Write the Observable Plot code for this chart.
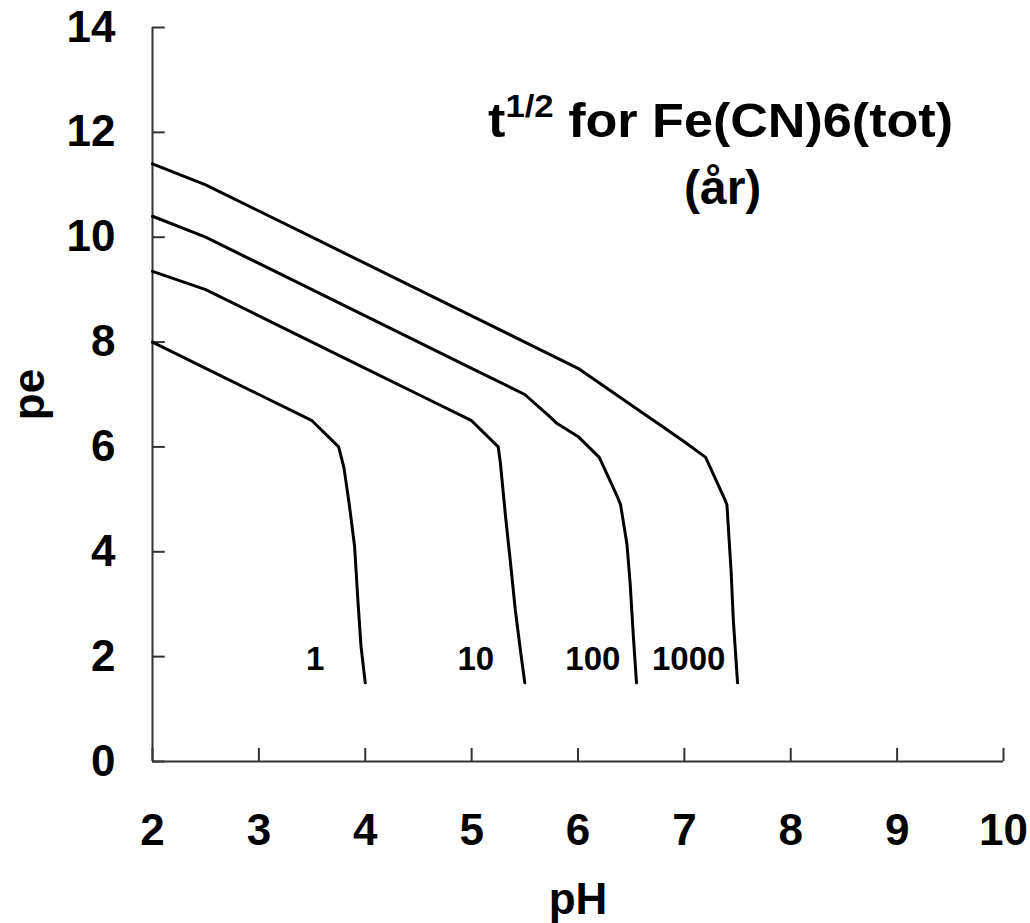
<!DOCTYPE html>
<html>
<head>
<meta charset="utf-8">
<script src="https://cdn.jsdelivr.net/npm/d3@7"></script>
<script src="https://cdn.jsdelivr.net/npm/@observablehq/plot@0.6"></script>
<style>
  html, body { margin: 0; padding: 0; background: #fff; }
  #chart svg { display: block; }
</style>
</head>
<body>
<div id="chart"></div>
<script>
// ---- data (pH, pe) ----
const curve1 = [[2,8.0],[2.5,7.5],[3,7.0],[3.5,6.5],[3.75,6.0],[3.8,5.6],[3.85,4.9],[3.9,4.1],[3.93,3.1],[3.96,2.2],[4.0,1.5]];
const curve10 = [[2,9.35],[2.5,9.0],[3,8.5],[3.5,8.0],[4,7.5],[4.5,7.0],[5,6.5],[5.25,6.0],[5.27,5.7],[5.32,4.65],[5.37,3.7],[5.41,2.9],[5.46,2.1],[5.5,1.5]];
const curve100 = [[2,10.4],[2.5,10.0],[3,9.5],[3.5,9.0],[4,8.5],[4.5,8.0],[5,7.5],[5.5,7.0],[5.75,6.55],[5.8,6.45],[6.0,6.2],[6.2,5.8],[6.37,5.05],[6.4,4.9],[6.46,4.15],[6.49,3.4],[6.52,2.4],[6.55,1.5]];
const curve1000 = [[2,11.4],[2.5,11.0],[3,10.5],[3.5,10.0],[4,9.5],[4.5,9.0],[5,8.5],[5.5,8.0],[6,7.5],[6.5,6.8],[7,6.1],[7.2,5.8],[7.38,5.0],[7.4,4.9],[7.44,3.6],[7.46,2.7],[7.5,1.5]];

const curveLabels = ["1", "10", "100", "1000"];
const labelPH = [3.53, 5.04, 6.14, 7.04];
const labelPE = [1.95, 1.95, 1.95, 1.95];

const xTicks = [2, 3, 4, 5, 6, 7, 8, 9, 10];
const yTicks = [0, 2, 4, 6, 8, 10, 12, 14];

const titleMain = "t";
const titleSup = "1/2";
const titleRest = " for Fe(CN)6(tot)";
const titleUnit = "(år)";
const titlePH = [7.34, 7.36];
const titlePE = [12.2, 10.92];

const xLabel = "pH";
const yLabel = "pe";

// ---- build ----
const curves = [curve1, curve10, curve100, curve1000];
const lineData = curves.flatMap((c, i) => c.map(([x, y]) => ({series: curveLabels[i], x, y})));
const labelData = curveLabels.map((t, i) => ({t, x: labelPH[i], y: labelPE[i]}));
const titleFull = titleMain + titleSup + titleRest;
const titleData = [{t: titleFull, x: titlePH[0], y: titlePE[0]}, {t: titleUnit, x: titlePH[1], y: titlePE[1]}];

const font = "'Liberation Sans', Arial, Helvetica, sans-serif";

const chart = Plot.plot({
  width: 1030,
  height: 923,
  marginLeft: 152,
  marginRight: 27,
  marginTop: 27,
  marginBottom: 162,
  style: {fontFamily: font, fontWeight: "bold", background: "#fff", color: "#000"},
  x: {domain: [2, 10]},
  y: {domain: [0, 14]},
  marks: [
    Plot.axisX({ticks: xTicks, tickSize: 0, tickPadding: 52, fontSize: 44, tickFormat: d => String(d),
      label: xLabel, labelAnchor: "center", labelOffset: 152, labelArrow: "none"}),
    Plot.axisY({ticks: yTicks, tickSize: 0, tickPadding: 37, fontSize: 44, tickFormat: d => String(d),
      label: yLabel, labelAnchor: "center", labelOffset: 140, labelArrow: "none"}),
    Plot.ruleX([2], {stroke: "#333", strokeWidth: 2}),
    Plot.ruleY([0], {stroke: "#333", strokeWidth: 2}),
    Plot.ruleX(xTicks, {x: d => d, y1: 0, y2: 0.25, stroke: "#333", strokeWidth: 2}),
    Plot.ruleY(yTicks, {y: d => d, x1: 2, x2: 2.12, stroke: "#333", strokeWidth: 2}),
    Plot.line(lineData, {x: "x", y: "y", z: "series", stroke: "#000", strokeWidth: 3, curve: "linear"}),
    Plot.text(labelData, {x: "x", y: "y", text: "t", fontSize: 33, fontWeight: "bold", fill: "#000"}),
    Plot.text(titleData, {x: "x", y: "y", text: "t", fontSize: 48, fontWeight: "bold", fill: "#000"})
  ]
});

document.getElementById("chart").appendChild(chart);

// superscript in title
d3.select(chart).selectAll("text").filter(function () { return this.textContent === titleFull; })
  .each(function () {
    const t = d3.select(this);
    t.text(null);
    t.append("tspan").text(titleMain);
    t.append("tspan").attr("font-size", 32).attr("dy", -20).text(titleSup);
    t.append("tspan").attr("dy", 20).text(titleRest);
    t.attr("textLength", 465).attr("lengthAdjust", "spacingAndGlyphs");
  });
</script>
</body>
</html>
